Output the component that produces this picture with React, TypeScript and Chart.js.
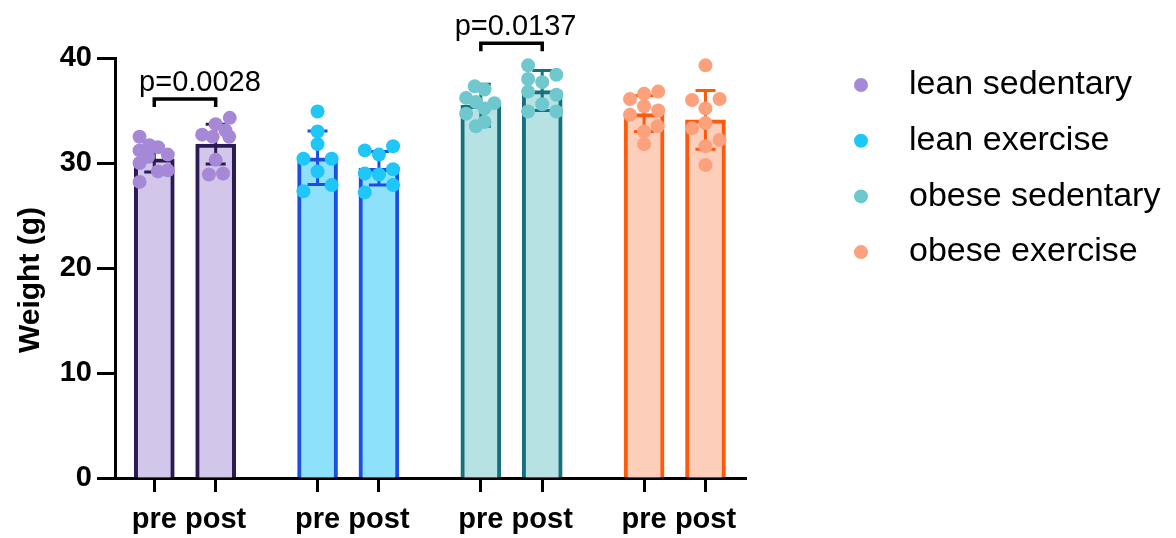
import React, { useEffect, useRef } from "react";
import { Chart, registerables } from "chart.js";

Chart.register(...registerables);

// ---------- data ----------
const groups = ["lean sedentary", "lean exercise", "obese sedentary", "obese exercise"];
const timepoints = ["pre", "post"];
// bar order: group0-pre, group0-post, group1-pre, ...
const means = [30.4, 31.8, 30.5, 29.5, 35.5, 36.9, 34.7, 34.1];
const sds = [1.25, 1.9, 2.55, 1.6, 2.0, 1.9, 1.7, 2.8];

const dotValues = [
  [32.5, 31.7, 31.2, 31.5, 30.8, 30.6, 30.0, 29.2, 29.3, 28.2],
  [34.3, 33.7, 33.1, 32.7, 32.5, 32.5, 30.3, 28.9, 29.0],
  [34.9, 33.0, 31.8, 30.4, 30.4, 29.2, 27.9, 27.3],
  [31.2, 31.6, 30.8, 29.0, 28.9, 29.4, 27.9, 27.2],
  [37.3, 37.0, 36.2, 35.8, 35.7, 34.7, 33.9, 33.5, 35.2],
  [39.3, 38.4, 38.0, 37.7, 36.8, 36.5, 35.6, 34.9, 34.9],
  [36.6, 36.8, 36.1, 35.4, 35.0, 34.6, 33.5, 33.0, 31.8],
  [39.3, 36.0, 36.1, 35.2, 33.8, 33.3, 32.2, 31.6, 29.8],
];
// horizontal scatter jitter of each dot (x-axis units, relative to its bar)
const dotJitter = [
  [-0.24, -0.08, -0.24, 0.06, 0.22, -0.1, -0.24, 0.06, 0.22, -0.24],
  [0.23, 0, 0.16, -0.22, -0.05, 0.22, 0, -0.11, 0.12],
  [0, 0, 0, -0.23, 0.23, 0, 0.23, -0.23],
  [-0.23, 0.23, 0, -0.23, 0, 0.23, 0.23, -0.23],
  [-0.1, 0.06, -0.24, -0.08, 0.22, -0.24, 0.06, -0.08, 0.06],
  [-0.23, 0.23, -0.23, 0, -0.23, 0.23, 0, -0.23, 0.23],
  [0, 0.23, -0.23, 0, 0.23, -0.23, 0.22, 0, 0],
  [0, -0.22, 0.23, 0, 0, -0.22, 0.23, 0, 0],
];

const bracketFrom = [0, 4];
const bracketTo = [1, 5];
const bracketY = [36.1, 41.4];
const bracketLabels = ["p=0.0028", "p=0.0137"];

const yTickValues = [0, 10, 20, 30, 40];

// ---------- styles ----------
const dotColors = ["#A689D6", "#1FC6F8", "#6EC8CE", "#FCA17C"];
const fillColors = ["#D2C6EA", "#8EE1FB", "#B7E2E4", "#FDCFBA"];
const borderColors = ["#2C1A52", "#1B4FE4", "#17717B", "#FF5A0C"];
const FONT = "'Liberation Sans', Arial, Helvetica, sans-serif";
const GROUP_STEP = 2.66;
const xPos = (i: number) => Math.floor(i / 2) * GROUP_STEP + (i % 2);
const bracketLabelShift = [15, 4];

const overlayPlugin = {
  id: "overlay",
  afterDatasetDraw(chart: any, args: any) {
    if (args.index !== 0) return;
    const { ctx } = chart;
    const x = chart.scales.x;
    const y = chart.scales.y;
    ctx.save();
    means.forEach((m, i) => {
      const gi = Math.floor(i / 2);
      const cx = x.getPixelForValue(xPos(i));
      const top = y.getPixelForValue(m + sds[i]);
      const bot = y.getPixelForValue(m - sds[i]);
      ctx.strokeStyle = borderColors[gi];
      ctx.lineWidth = 3;
      ctx.beginPath();
      ctx.moveTo(cx, top);
      ctx.lineTo(cx, bot);
      ctx.moveTo(cx - 10, top);
      ctx.lineTo(cx + 10, top);
      ctx.moveTo(cx - 10, bot);
      ctx.lineTo(cx + 10, bot);
      ctx.stroke();
    });
    ctx.restore();
  },
  afterDraw(chart: any) {
    const { ctx } = chart;
    const x = chart.scales.x;
    const y = chart.scales.y;
    ctx.save();
    // significance brackets
    bracketLabels.forEach((lab, k) => {
      const x1 = x.getPixelForValue(xPos(bracketFrom[k]));
      const x2 = x.getPixelForValue(xPos(bracketTo[k]));
      const yy = y.getPixelForValue(bracketY[k]);
      ctx.strokeStyle = "#000";
      ctx.lineWidth = 3.5;
      ctx.beginPath();
      ctx.moveTo(x1, yy + 8);
      ctx.lineTo(x1, yy);
      ctx.lineTo(x2, yy);
      ctx.lineTo(x2, yy + 8);
      ctx.stroke();
      ctx.fillStyle = "#000";
      ctx.font = `29px ${FONT}`;
      ctx.textAlign = "center";
      ctx.textBaseline = "alphabetic";
      ctx.fillText(lab, (x1 + x2) / 2 + bracketLabelShift[k], yy - 8);
    });
    // y-axis title
    ctx.save();
    ctx.translate(31, 280);
    ctx.rotate(-Math.PI / 2);
    ctx.font = `bold 30px ${FONT}`;
    ctx.textAlign = "center";
    ctx.textBaseline = "middle";
    ctx.fillStyle = "#000";
    ctx.fillText("Weight (g)", 0, 0);
    ctx.restore();
    // legend
    groups.forEach((g, gi) => {
      const ly = 85 + gi * 55.7;
      ctx.fillStyle = dotColors[gi];
      ctx.beginPath();
      ctx.arc(861, ly, 7, 0, Math.PI * 2);
      ctx.fill();
      ctx.fillStyle = "#000";
      ctx.font = `34px ${FONT}`;
      ctx.textAlign = "left";
      ctx.textBaseline = "middle";
      ctx.fillText(g, 909, ly);
    });
    ctx.restore();
  },
};

export default function App() {
  const ref = useRef<HTMLCanvasElement>(null);
  useEffect(() => {
    if (!ref.current) return;
    Chart.defaults.font.family = FONT;
    const barData = means.map((m, i) => ({ x: xPos(i), y: m }));
    const scatterSets = groups.map((g, gi) => ({
      type: "scatter" as const,
      label: g,
      data: [0, 1].flatMap((t) => {
        const bi = gi * 2 + t;
        return dotValues[bi].map((v, k) => ({ x: xPos(bi) + dotJitter[bi][k], y: v }));
      }),
      backgroundColor: dotColors[gi],
      borderWidth: 0,
      pointRadius: 7,
      pointHoverRadius: 7,
      order: 1,
      clip: false as any,
    }));
    const chart = new Chart(ref.current, {
      type: "bar",
      data: {
        datasets: [
          {
            type: "bar",
            label: "mean",
            data: barData as any,
            backgroundColor: means.map((_, i) => fillColors[Math.floor(i / 2)]),
            borderColor: means.map((_, i) => borderColors[Math.floor(i / 2)]),
            borderWidth: 4,
            borderSkipped: "bottom",
            barThickness: 40,
            order: 2,
          } as any,
          ...(scatterSets as any),
        ],
      },
      options: {
        animation: false,
        responsive: false,
        layout: { padding: { top: 58, right: 430, bottom: 0, left: 0 } },
        plugins: { legend: { display: false }, tooltip: { enabled: false } },
        scales: {
          x: {
            type: "linear",
            offset: false,
            min: -0.64,
            max: 9.64,
            afterBuildTicks: (s: any) => {
              s.ticks = means.map((_, i) => ({ value: xPos(i) }));
            },
            ticks: {
              autoSkip: false,
              maxRotation: 0,
              color: "#000",
              padding: 11,
              font: { size: 29, weight: "bold" },
              callback: (_v: any, idx: number) => timepoints[idx % 2],
            },
            grid: { offset: false, drawOnChartArea: false, drawTicks: true, tickLength: 14, tickWidth: 3, tickColor: "#000" },
            border: { display: true, width: 3, color: "#000" },
            afterFit: (s: any) => {
              s.height = 60;
            },
          },
          y: {
            min: 0,
            max: 40,
            afterBuildTicks: (s: any) => {
              s.ticks = yTickValues.map((v) => ({ value: v }));
            },
            ticks: { color: "#000", padding: 5, font: { size: 29, weight: "bold" } },
            grid: { drawOnChartArea: false, drawTicks: true, tickLength: 18, tickWidth: 3, tickColor: "#000" },
            border: { display: true, width: 3, color: "#000" },
            afterFit: (s: any) => {
              s.width = 115;
            },
          },
        },
      } as any,
      plugins: [overlayPlugin],
    });
    return () => chart.destroy();
  }, []);
  return (
    <div style={{ position: "absolute", left: 0, top: 0, width: 1176, height: 538, background: "#fff" }}>
      <canvas ref={ref} width={1176} height={538} style={{ display: "block" }} />
    </div>
  );
}
